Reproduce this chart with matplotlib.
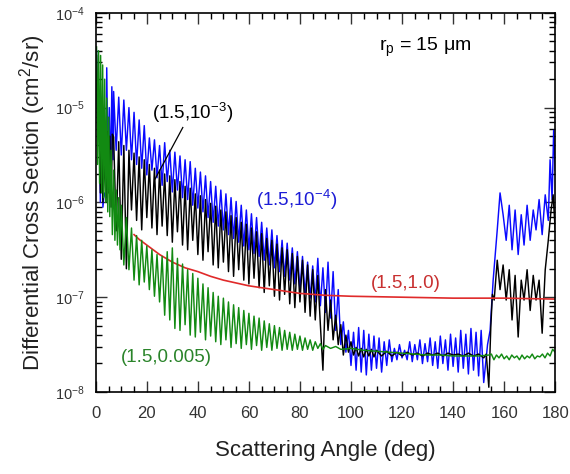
import matplotlib.pyplot as plt
import numpy as np
from matplotlib.ticker import MultipleLocator, LogLocator

plt.rcParams['font.family'] = ['Liberation Sans', 'DejaVu Sans']
plt.rcParams['mathtext.fontset'] = 'custom'
plt.rcParams['mathtext.rm'] = 'Liberation Sans'
plt.rcParams['mathtext.it'] = 'Liberation Sans:italic'

# (angle in deg, log10 of cross section) for each case (m, k)
blue_pts = [
    (0.3, -4.40), (0.8, -5.10), (1.3, -4.90), (1.8, -6.00), (2.3, -5.00), (2.8, -6.05), (3.3, -5.90),
    (4.0, -5.95), (4.3, -4.58), (4.8, -5.70), (5.3, -5.00), (5.8, -5.75), (6.3, -4.78), (6.8, -5.55),
    (7, -4.83), (8, -5.45), (9, -4.89), (10, -5.50), (11, -4.92), (12, -5.45), (13, -5.00), (14, -5.55),
    (15, -5.05), (16, -5.60), (17, -5.13), (18, -5.64), (19, -5.19), (20, -5.71),
    (21, -5.32), (22, -5.66), (23, -5.34), (24, -5.74), (25, -5.40), (26, -5.82), (27, -5.37), (28, -5.78),
    (29, -5.45), (30, -5.89), (31, -5.47), (32, -5.87), (33, -5.51), (34, -5.95), (35, -5.55), (36, -5.97),
    (37, -5.57), (38, -6.03), (39, -5.64), (40, -6.06), (41, -5.68), (42, -6.10), (43, -5.72), (44, -6.16),
    (45, -5.78), (46, -6.21), (47, -5.83), (48, -6.25), (49, -5.87), (50, -6.29), (51, -5.91), (52, -6.34),
    (53, -5.95), (54, -6.38), (55, -5.99), (56, -6.42), (57, -6.03), (58, -6.46), (59, -6.08), (60, -6.50),
    (61, -6.12), (62, -6.54), (63, -6.16), (64, -6.57), (65, -6.21), (66, -6.61), (67, -6.27), (68, -6.66),
    (69, -6.29), (70, -6.69), (71, -6.35), (72, -6.73), (73, -6.40), (74, -6.78), (75, -6.43), (76, -6.82),
    (77, -6.48), (78, -6.86), (79, -6.52), (80, -6.92), (81, -6.57), (82, -6.97), (83, -6.63), (84, -7.01),
    (85, -6.67), (86, -7.05), (87, -6.59), (88, -7.09), (89, -6.69), (90, -7.16), (91, -6.63), (92, -7.22),
    (93, -6.73), (94, -7.35), (95, -6.92), (96, -7.50), (97, -7.26), (98, -7.58), (99, -7.35), (100, -7.72),
    (101, -7.37), (102, -7.77), (103, -7.32), (104, -7.79), (105, -7.35), (106, -7.82), (107, -7.39),
    (108, -7.77), (109, -7.41), (110, -7.75), (111, -7.43), (112, -7.79), (113, -7.47), (114, -7.72),
    (115, -7.45), (116, -7.68), (117, -7.54), (118, -7.66), (119, -7.50), (120, -7.64), (121, -7.56),
    (122, -7.66), (123, -7.47), (124, -7.68), (125, -7.50), (126, -7.66), (127, -7.45), (128, -7.70),
    (129, -7.49), (130, -7.68), (131, -7.43), (132, -7.72), (133, -7.47), (134, -7.75), (135, -7.41),
    (136, -7.70), (137, -7.45), (138, -7.77), (139, -7.39), (140, -7.73), (141, -7.43), (142, -7.79),
    (143, -7.35), (144, -7.75), (145, -7.39), (146, -7.81), (147, -7.33), (148, -7.77), (149, -7.37),
    (150, -7.83), (151, -7.35), (152, -7.90), (153.5, -7.50), (154.5, -7.35), (155.7, -6.82), (157.3, -6.29),
    (158.4, -5.90), (159.6, -6.13), (160.8, -6.40), (162.0, -6.03), (163.1, -6.50), (164.3, -6.08),
    (165.5, -6.55), (166.7, -6.13), (167.8, -6.45), (169.0, -6.03), (170.2, -6.40), (171.4, -6.08),
    (172.5, -6.29), (173.7, -5.97), (174.9, -6.34), (176.1, -5.92), (177.3, -6.19), (178.0, -5.55),
    (178.8, -5.97), (179.4, -5.24), (180, -5.66),
]

black_pts = [
    (0.3, -4.45), (0.8, -5.30), (1.3, -4.95), (1.8, -5.90), (2.3, -5.10), (2.8, -6.00), (3.3, -5.50),
    (4.0, -6.00), (4.5, -5.25), (5.0, -5.90), (5.5, -5.30), (6.0, -6.05), (6.5, -5.28),
    (7, -5.31), (8, -6.30), (9, -5.36), (10, -6.60), (11, -5.40), (12, -6.70), (13, -5.45), (14, -6.08),
    (15, -5.48), (16, -6.19), (17, -5.52), (18, -6.29), (19, -5.55), (20, -6.16),
    (21, -5.60), (22, -6.27), (23, -5.64), (24, -6.34), (25, -5.66), (26, -6.25), (27, -5.70), (28, -6.35),
    (29, -5.72), (30, -6.42), (31, -5.76), (32, -6.31), (33, -5.78), (34, -6.45), (35, -5.83), (36, -6.50),
    (37, -5.85), (38, -6.40), (39, -5.91), (40, -6.55), (41, -5.93), (42, -6.61), (43, -5.97), (44, -6.52),
    (45, -6.01), (46, -6.66), (47, -6.04), (48, -6.69), (49, -6.08), (50, -6.63), (51, -6.10), (52, -6.73),
    (53, -6.14), (54, -6.78), (55, -6.16), (56, -6.71), (57, -6.21), (58, -6.82), (59, -6.23), (60, -6.86),
    (61, -6.27), (62, -6.80), (63, -6.31), (64, -6.90), (65, -6.33), (66, -6.95), (67, -6.38), (68, -6.88),
    (69, -6.40), (70, -6.99), (71, -6.44), (72, -7.03), (73, -6.48), (74, -6.97), (75, -6.50), (76, -7.07),
    (77, -6.54), (78, -7.11), (79, -6.57), (80, -7.05), (81, -6.61), (82, -7.16), (83, -6.66), (84, -7.20),
    (85, -6.71), (86, -7.24), (87, -6.77), (88, -7.29), (89, -7.77), (90, -6.92), (91, -7.35), (92, -7.03),
    (93, -7.45), (94, -7.19), (95, -7.50), (96, -7.29), (97, -7.61), (98, -7.40), (99, -7.58), (100, -7.47),
    (101, -7.61), (102, -7.53), (103, -7.62), (104, -7.54), (105, -7.63), (106, -7.55), (107, -7.62),
    (108, -7.55), (109, -7.63), (110, -7.56), (112, -7.62), (114, -7.57), (116, -7.62), (118, -7.58),
    (120, -7.62), (122, -7.58), (124, -7.61), (126, -7.59), (128, -7.62), (130, -7.59), (132, -7.61),
    (134, -7.59), (136, -7.62), (138, -7.59), (140, -7.61), (142, -7.60), (144, -7.62), (146, -7.59),
    (148, -7.62), (150, -7.60), (152, -7.64), (153, -7.60), (154, -7.95), (154.8, -7.30), (155.4, -6.97),
    (156.1, -7.03), (157.3, -6.61), (158.4, -6.92), (159.6, -6.66), (160.8, -7.03), (162.0, -6.71),
    (163.1, -7.24), (164.3, -6.77), (165.5, -7.42), (166.7, -6.82), (167.8, -7.03), (169.0, -6.71),
    (170.2, -7.14), (171.4, -6.77), (172.5, -7.03), (173.7, -6.82), (174.9, -7.38), (176.1, -6.71),
    (177.3, -6.40), (178.4, -6.08), (179.2, -5.92), (180, -6.29),
]

green_pts = [
    (0.3, -4.36), (0.7, -5.60), (1.1, -4.40), (1.5, -5.80), (1.9, -4.45), (2.3, -5.90), (2.7, -4.55),
    (3.1, -5.95), (3.5, -4.70), (3.9, -6.00), (4.3, -4.90), (4.7, -6.10), (5.1, -5.10), (5.5, -6.15),
    (6.0, -5.45), (6.5, -6.34), (7.0, -5.66), (7.5, -6.40), (8.0, -5.87), (8.5, -6.45), (9.0, -5.95),
    (9.5, -6.50), (10, -6.03), (11, -6.66), (12, -6.16), (13, -6.71), (14, -6.27), (15, -6.82), (16, -6.35),
    (17, -6.87), (18, -6.40), (19, -6.84), (20, -6.46), (21, -6.92), (22, -6.50), (23, -6.99), (24, -6.55),
    (25, -7.05), (26, -6.57), (27, -7.19), (28, -6.52), (29, -7.24), (30, -6.48), (31, -7.33), (32, -6.59),
    (33, -7.35), (34, -6.65), (35, -7.29), (36, -6.71), (37, -7.40), (38, -6.75), (39, -7.42), (40, -6.80),
    (41, -7.37), (42, -6.86), (43, -7.45), (44, -6.90), (45, -7.41), (46, -6.95), (47, -7.47), (48, -6.99),
    (49, -7.50), (50, -7.01), (51, -7.45), (52, -7.05), (53, -7.53), (54, -7.08), (55, -7.49), (56, -7.11),
    (57, -7.54), (58, -7.14), (59, -7.50), (60, -7.17), (61, -7.55), (62, -7.20), (63, -7.51), (64, -7.22),
    (65, -7.56), (66, -7.25), (67, -7.53), (68, -7.28), (69, -7.56), (70, -7.30), (71, -7.54), (72, -7.32),
    (73, -7.56), (74, -7.35), (75, -7.55), (76, -7.37), (77, -7.56), (78, -7.39), (79, -7.55), (80, -7.41),
    (81, -7.56), (82, -7.43), (83, -7.55), (84, -7.45), (85, -7.56), (86, -7.47), (87, -7.54), (88, -7.49),
    (89, -7.55), (90, -7.51), (92, -7.54), (94, -7.52), (96, -7.55), (100, -7.54), (105, -7.56),
    (110, -7.57), (115, -7.58), (120, -7.59), (125, -7.60), (130, -7.61), (135, -7.61), (140, -7.62),
    (145, -7.62), (150, -7.62), (154, -7.61), (155, -7.60), (156, -7.66), (157, -7.61), (158, -7.64),
    (159, -7.60), (160, -7.65), (161, -7.62), (162, -7.66), (163, -7.61), (164, -7.64), (165, -7.62),
    (166, -7.66), (167, -7.61), (168, -7.65), (169, -7.62), (170, -7.64), (171, -7.60), (172, -7.65),
    (173, -7.62), (174, -7.63), (175, -7.60), (176, -7.64), (177, -7.59), (178, -7.62), (179, -7.55),
    (180, -7.58),
]

red_angle = [15, 17, 20, 25, 30, 35, 40, 45, 50, 60, 70, 80, 90, 100, 120, 140, 160, 180]
red_log = [-6.34, -6.39, -6.45, -6.55, -6.63, -6.69, -6.73, -6.78, -6.82, -6.88, -6.92, -6.96, -6.98,
           -6.99, -7.00, -7.01, -7.01, -7.02]

fig = plt.figure(figsize=(5.7, 4.74), dpi=100)
ax = fig.add_axes([0.168, 0.173, 0.806, 0.80])

blue = np.array(blue_pts)
black = np.array(black_pts)
green = np.array(green_pts)

ax.plot(blue[:, 0], 10 ** blue[:, 1], color='#0a0aff', lw=1.05)
ax.plot(black[:, 0], 10 ** black[:, 1], color='black', lw=1.05)
ax.plot(red_angle, 10 ** np.array(red_log), color='#e02a2a', lw=1.2)
ax.plot(green[:, 0], 10 ** green[:, 1], color='#128a12', lw=1.05)

ax.set_yscale('log')
ax.set_xlim(0, 180)
ax.set_ylim(1e-8, 1e-4)

ax.xaxis.set_major_locator(MultipleLocator(20))
ax.xaxis.set_minor_locator(MultipleLocator(5))
ax.yaxis.set_major_locator(LogLocator(base=10, numticks=10))
ax.yaxis.set_minor_locator(LogLocator(base=10, subs=np.arange(2, 10), numticks=20))

ax.tick_params(which='both', direction='in', top=True, right=True, width=1.0)
ax.tick_params(which='major', length=8)
ax.tick_params(which='minor', length=4)
ax.tick_params(axis='x', labelsize=12, pad=10, colors='#333333')
ax.tick_params(axis='y', labelsize=10.5, pad=8, colors='#333333')
for s in ax.spines.values():
    s.set_linewidth(1.2)

ax.set_xlabel('Scattering Angle (deg)', fontsize=16, labelpad=14, color='#222222')
ax.set_ylabel('Differential Cross Section (cm$^2$/sr)', fontsize=16, labelpad=5, color='#222222')

ax.text(129, 10 ** -4.37, 'r$_\\mathrm{p}$ = 15 \u03bcm', fontsize=14, ha='center', va='center')
ax.text(38, 10 ** -5.06, '(1.5,10$^{-3}$)', fontsize=13.5, ha='center', va='center')
ax.plot([34.1, 23.1], [10 ** -5.21, 10 ** -5.76], color='black', lw=0.9)
ax.text(78.8, 10 ** -5.97, '(1.5,10$^{-4}$)', fontsize=13.5, ha='center', va='center', color='#1c1cd6')
ax.text(121.6, 10 ** -6.86, '(1.5,1.0)', fontsize=13.5, ha='center', va='center', color='#c83030')
ax.text(27.8, 10 ** -7.64, '(1.5,0.005)', fontsize=13.5, ha='center', va='center', color='#2a842a')

fig.savefig('out.png', dpi=100)
